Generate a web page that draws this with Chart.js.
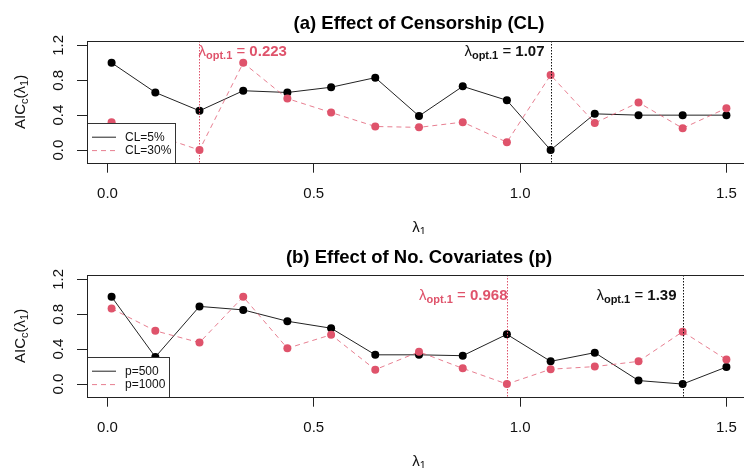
<!DOCTYPE html>
<html lang="en">
<head>
<meta charset="UTF-8">
<title>AICc vs lambda</title>
<script src="https://cdn.jsdelivr.net/npm/chart.js@4.4.0/dist/chart.umd.min.js"></script>
<style>
  html, body { margin: 0; padding: 0; background: #fff; overflow: hidden; }
  .panel { width: 760px; height: 234px; }
</style>
</head>
<body>
<div class="panel"><canvas id="chartA" width="760" height="234"></canvas></div>
<div class="panel"><canvas id="chartB" width="760" height="234"></canvas></div>

<script>
// lambda grid (x values)
const lambdaGrid = [0.01, 0.116, 0.223, 0.329, 0.436, 0.542, 0.649, 0.755, 0.861, 0.968, 1.074, 1.181, 1.287, 1.394, 1.5];

// (a) censorship
const aicCL5  = [1.0, 0.66, 0.45, 0.68, 0.66, 0.72, 0.83, 0.39, 0.73, 0.57, 0.0, 0.415, 0.40, 0.40, 0.40];
const aicCL30 = [0.32, 0.17, 0.0, 1.0, 0.59, 0.43, 0.27, 0.26, 0.32, 0.09, 0.86, 0.31, 0.545, 0.25, 0.48];

// (b) number of covariates
const aicP500  = [1.0, 0.31, 0.89, 0.85, 0.72, 0.64, 0.335, 0.335, 0.325, 0.57, 0.26, 0.36, 0.04, 0.0, 0.195];
const aicP1000 = [0.865, 0.61, 0.475, 1.0, 0.41, 0.565, 0.165, 0.37, 0.18, 0.0, 0.17, 0.20, 0.26, 0.60, 0.28];

// optimum lambda markers
const optLambdaA = [0.223, 1.074];
const optLabelA  = ['0.223', '1.07'];
const optLambdaB = [0.968, 1.394];
const optLabelB  = ['0.968', '1.39'];

const xTicks = [0, 0.5, 1.0, 1.5];
const yTicks = [0, 0.2, 0.4, 0.6, 0.8, 1.0, 1.2];

const RED = '#DF536B';
const FONT = '"Liberation Sans", Arial, sans-serif';

function richText(ctx, parts, x, y, align) {
  let w = 0;
  parts.forEach(p => { ctx.font = p.font; w += ctx.measureText(p.t).width; });
  let cx = align === 'right' ? x - w : (align === 'center' ? x - w / 2 : x);
  ctx.textAlign = 'left';
  ctx.textBaseline = 'middle';
  parts.forEach(p => {
    ctx.font = p.font;
    ctx.fillText(p.t, cx, y + (p.dy || 0));
    cx += ctx.measureText(p.t).width;
  });
}

const decor = {
  id: 'decor',
  afterDatasetsDraw(chart, args, opts) {
    const { ctx, chartArea: a, scales: { x, y } } = chart;
    ctx.save();
    // dotted optimum lines + labels
    opts.marks.forEach(m => {
      const px = Math.round(x.getPixelForValue(m.value)) + 0.5;
      ctx.strokeStyle = m.color;
      ctx.lineWidth = 1;
      ctx.setLineDash([1.5, 1.5]);
      ctx.beginPath();
      ctx.moveTo(px, a.top);
      ctx.lineTo(px, a.bottom);
      ctx.stroke();
      ctx.setLineDash([]);
      ctx.fillStyle = m.color;
      richText(ctx, [
        { t: 'λ', font: '15px ' + FONT },
        { t: 'opt.1', font: 'bold 11px ' + FONT, dy: 4 },
        { t: ' = ', font: '15px ' + FONT },
        { t: m.label, font: 'bold 15px ' + FONT }
      ], px + m.dx, y.getPixelForValue(m.labelY), m.align);
    });

    // legend box (bottom-left, covers the lines)
    const ds = chart.data.datasets;
    ctx.font = '12px ' + FONT;
    const maxW = Math.max(...ds.map(d => ctx.measureText(d.label).width));
    const lx = a.left, lh = 39.5, ly = a.bottom - lh;
    const lw = 38 + maxW + 4;
    ctx.fillStyle = '#fff';
    ctx.fillRect(lx, ly, lw, lh);
    ctx.strokeStyle = '#333';
    ctx.lineWidth = 1;
    ctx.strokeRect(Math.round(lx) + 0.5, Math.round(ly) + 0.5, Math.round(lw), Math.round(lh));
    ds.forEach((d, i) => {
      const ry = ly + 14 + i * 13.4;
      ctx.strokeStyle = d.borderColor;
      ctx.setLineDash(d.borderDash || []);
      ctx.beginPath();
      ctx.moveTo(lx + 5, ry);
      ctx.lineTo(lx + 29, ry);
      ctx.stroke();
      ctx.setLineDash([]);
      ctx.fillStyle = '#111';
      ctx.textAlign = 'left';
      ctx.textBaseline = 'middle';
      ctx.fillText(d.label, lx + 38, ry);
    });

    // plot box
    ctx.strokeStyle = '#222';
    ctx.strokeRect(Math.round(a.left) + 0.5, Math.round(a.top) + 0.5,
                   Math.round(a.right - a.left), Math.round(a.bottom - a.top));
    ctx.restore();
  },
  afterDraw(chart, args, opts) {
    const { ctx, chartArea: a } = chart;
    const cx = (a.left + a.right) / 2;
    ctx.save();
    ctx.fillStyle = '#000';
    ctx.textAlign = 'center';
    ctx.textBaseline = 'middle';
    ctx.font = 'bold 18.5px ' + FONT;
    ctx.fillText(opts.title, cx, 23.5);
    // x title
    ctx.fillStyle = '#111';
    richText(ctx, [
      { t: 'λ', font: '15px ' + FONT },
      { t: '1', font: '11px ' + FONT, dy: 4 }
    ], cx, 228, 'center');
    // y title
    ctx.translate(21, (a.top + a.bottom) / 2);
    ctx.rotate(-Math.PI / 2);
    richText(ctx, [
      { t: 'AIC', font: '15px ' + FONT },
      { t: 'c', font: '11px ' + FONT, dy: 4 },
      { t: '(λ', font: '15px ' + FONT },
      { t: '1', font: '11px ' + FONT, dy: 4 },
      { t: ')', font: '15px ' + FONT }
    ], 0, 0, 'center');
    ctx.restore();
  }
};

function makePanel(id, title, labels, series, optVals, optLabels, optStyle, labelY) {
  const ctx = document.getElementById(id).getContext('2d');
  const styles = [
    { borderColor: '#222', pointBackgroundColor: '#000', borderDash: [] },
    { borderColor: 'rgba(223,83,107,0.75)', pointBackgroundColor: RED, borderDash: [5, 4] }
  ];
  const datasets = series.map((s, i) => ({
    label: labels[i],
    data: lambdaGrid.map((v, j) => ({ x: v, y: s[j] })),
    borderColor: styles[i].borderColor,
    borderDash: styles[i].borderDash,
    borderWidth: 1,
    pointRadius: 4,
    pointBorderWidth: 0,
    pointBackgroundColor: styles[i].pointBackgroundColor,
    tension: 0,
    order: i === 0 ? 1 : 0
  }));
  const marks = optVals.map((v, i) => ({
    value: v, label: optLabels[i], labelY: labelY,
    color: optStyle[i].color, align: optStyle[i].align, dx: optStyle[i].dx
  }));
  return new Chart(ctx, {
    type: 'line',
    data: { datasets },
    plugins: [decor],
    options: {
      responsive: false,
      animation: false,
      layout: { padding: { top: 41, right: 9, bottom: 0, left: 0 } },
      plugins: {
        legend: { display: false },
        tooltip: { enabled: false },
        decor: { title, marks }
      },
      scales: {
        x: {
          type: 'linear',
          min: -0.0496, max: 1.5596,
          afterBuildTicks: s => { s.ticks = xTicks.map(v => ({ value: v })); },
          afterFit: s => { s.height = 71.3; },
          grid: { drawOnChartArea: false, tickLength: 10, color: '#222' },
          border: { display: false },
          ticks: {
            padding: 12,
            color: '#111',
            font: { family: FONT, size: 15 },
            callback: v => v.toFixed(1)
          }
        },
        y: {
          type: 'linear',
          min: -0.145, max: 1.25,
          afterBuildTicks: s => { s.ticks = yTicks.map(v => ({ value: v })); },
          afterFit: s => { s.width = 87; },
          grid: { drawOnChartArea: false, tickLength: 10, color: '#222' },
          border: { display: false },
          ticks: {
            padding: 8,
            minRotation: 90,
            maxRotation: 90,
            crossAlign: 'center',
            color: '#111',
            font: { family: FONT, size: 15 },
            callback: v => (Math.round(v * 10) % 4 === 0 ? v.toFixed(1) : '')
          }
        }
      }
    }
  });
}

makePanel('chartA', '(a) Effect of Censorship (CL)', ['CL=5%', 'CL=30%'],
  [aicCL5, aicCL30], optLambdaA, optLabelA,
  [{ color: RED, align: 'left', dx: -1 }, { color: '#111', align: 'right', dx: -7 }], 1.12);

makePanel('chartB', '(b) Effect of No. Covariates (p)', ['p=500', 'p=1000'],
  [aicP500, aicP1000], optLambdaB, optLabelB,
  [{ color: RED, align: 'right', dx: 0 }, { color: '#111', align: 'right', dx: -7 }], 1.01);
</script>
</body>
</html>
